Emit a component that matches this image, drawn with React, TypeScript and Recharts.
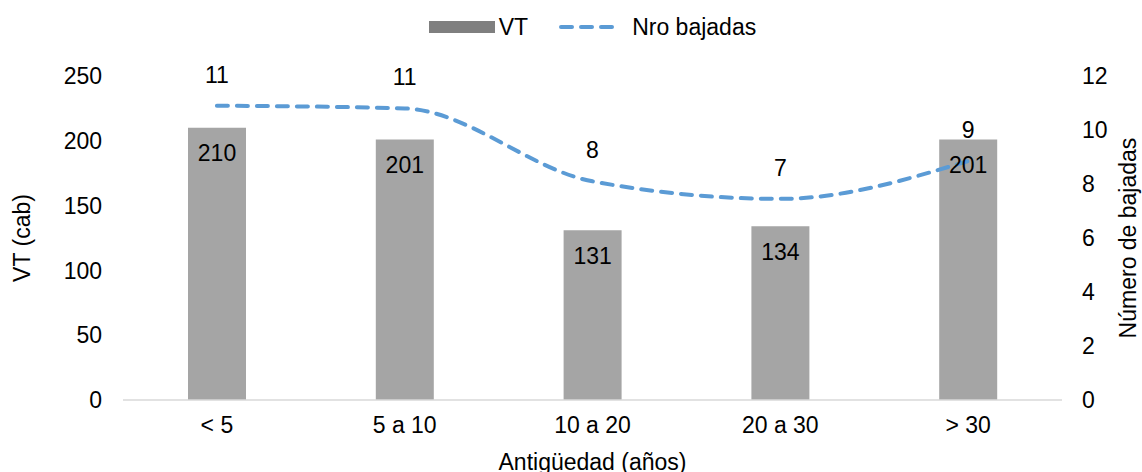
import { Bar, ComposedChart, Label, LabelList, Legend, Line, XAxis, YAxis } from 'recharts';

const categories = ['< 5', '5 a 10', '10 a 20', '20 a 30', '> 30'];
const vtValues = [210, 201, 131, 134, 201];
const bajadasValues = [10.9, 10.8, 8.1, 7.45, 8.85];
const leftTicks = [0, 50, 100, 150, 200, 250];
const rightTicks = [0, 2, 4, 6, 8, 10, 12];

const FONT = '"Liberation Sans", Arial, sans-serif';
const FS = 23;
const BAR_COLOR = '#a5a5a5';
const LINE_COLOR = '#5b9bd5';

const data = categories.map((name, i) => ({
  name,
  vt: vtValues[i],
  bajadas: bajadasValues[i],
}));

const tickStyle = { fill: '#000', fontSize: FS, fontFamily: FONT };

function ChartLegend() {
  return (
    <div
      style={{
        display: 'flex',
        justifyContent: 'center',
        alignItems: 'center',
        paddingTop: 14,
        height: 26,
        fontFamily: FONT,
        fontSize: FS,
        color: '#000',
      }}
    >
      <span style={{ display: 'inline-block', width: 66, height: 12, background: '#7f7f7f' }} />
      <span style={{ marginLeft: 4 }}>VT</span>
      <svg width={66} height={12} style={{ marginLeft: 30 }}>
        <line
          x1={3}
          x2={63}
          y1={6}
          y2={6}
          stroke={LINE_COLOR}
          strokeWidth={4}
          strokeDasharray="11 9"
          strokeLinecap="round"
        />
      </svg>
      <span style={{ marginLeft: 8 }}>Nro bajadas</span>
    </div>
  );
}

function AxisTitle({ viewBox, text, dx, dy, angle }: any) {
  const x = viewBox.x + dx;
  const y = viewBox.y + dy;
  return (
    <text
      x={x}
      y={y}
      transform={angle ? `rotate(${angle}, ${x}, ${y})` : undefined}
      textAnchor="middle"
      dominantBaseline="central"
      fontSize={FS}
      fontFamily={FONT}
      fill="#000"
    >
      {text}
    </text>
  );
}

export default function App() {
  return (
    <div style={{ position: 'absolute', left: 0, top: 0, background: '#fff' }}>
      <ComposedChart width={1142} height={472} data={data} margin={{ top: 0, right: 0, bottom: 0, left: 0 }}>
        <Legend
          verticalAlign="top"
          height={76}
          wrapperStyle={{ top: 0, left: 123, width: 939, height: 76 }}
          content={() => <ChartLegend />}
        />
        <XAxis
          dataKey="name"
          height={72}
          tick={tickStyle}
          tickLine={false}
          tickMargin={11}
          axisLine={{ stroke: '#d9d9d9', strokeWidth: 1.5 }}
        >
          <Label
            content={(props: any) => (
              <AxisTitle viewBox={props.viewBox} text="Antigüedad (años)" dx={469.5} dy={62} />
            )}
          />
        </XAxis>
        <YAxis
          yAxisId="left"
          width={123}
          domain={[0, 250]}
          ticks={leftTicks}
          tick={tickStyle}
          tickLine={false}
          axisLine={false}
          tickMargin={15}
        >
          <Label
            content={(props: any) => (
              <AxisTitle viewBox={props.viewBox} text="VT (cab)" dx={22} dy={162} angle={-90} />
            )}
          />
        </YAxis>
        <YAxis
          yAxisId="right"
          orientation="right"
          width={80}
          domain={[0, 12]}
          ticks={rightTicks}
          tick={tickStyle}
          tickLine={false}
          axisLine={false}
          tickMargin={14}
        >
          <Label
            content={(props: any) => (
              <AxisTitle viewBox={props.viewBox} text="Número de bajadas" dx={66} dy={162} angle={-90} />
            )}
          />
        </YAxis>
        <Bar yAxisId="left" dataKey="vt" fill={BAR_COLOR} barSize={58} isAnimationActive={false}>
          <LabelList dataKey="vt" position="insideTop" offset={17} fill="#000" fontSize={FS} fontFamily={FONT} />
        </Bar>
        <Line
          yAxisId="right"
          type="monotone"
          dataKey="bajadas"
          stroke={LINE_COLOR}
          strokeWidth={4}
          strokeDasharray="11 9"
          strokeLinecap="round"
          dot={false}
          activeDot={false}
          isAnimationActive={false}
        >
          <LabelList
            dataKey="bajadas"
            position="top"
            offset={23}
            fill="#000"
            fontSize={FS}
            fontFamily={FONT}
            formatter={(v: any) => Math.round(Number(v))}
          />
        </Line>
      </ComposedChart>
    </div>
  );
}
